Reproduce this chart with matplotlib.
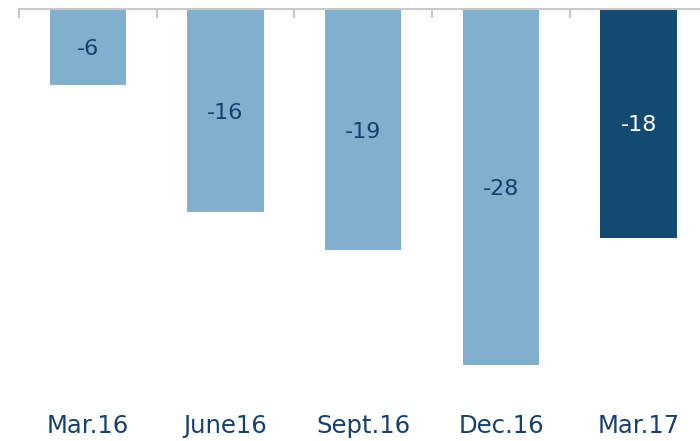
import matplotlib
matplotlib.use("Agg")
import matplotlib.pyplot as plt

categories = ["Mar.16", "June16", "Sept.16", "Dec.16", "Mar.17"]
values = [-6, -16, -19, -28, -18]
highlight = [False, False, False, False, True]

W, H = 700, 441
fig = plt.figure(figsize=(W/100, H/100), dpi=100)
left_px, right_px = 19, 707.5
top_px, bot_px = 9, 390
ax = fig.add_axes([left_px/W, 1 - bot_px/H, (right_px-left_px)/W, (bot_px-top_px)/H])

light = "#80b0cd"
dark = "#154a70"
text_c = "#17406d"
colors = [dark if h else light for h in highlight]
x = list(range(len(categories)))
bars = ax.bar(x, values, width=0.555, color=colors, zorder=2)

ax.set_xlim(-0.5, len(categories) - 0.5)
ax.set_ylim(-30, 0)
for s in ["left", "right", "bottom"]:
    ax.spines[s].set_visible(False)
ax.spines["top"].set_color("#c8c8c8")
ax.spines["top"].set_linewidth(1.5)
ax.set_yticks([])
ax.set_xticks([])
# separator ticks on the top axis
for b in [i - 0.5 for i in range(len(categories) + 1)]:
    ax.plot([b, b], [0, -0.63], color="#c8c8c8", lw=1.5, clip_on=False, zorder=3)

fontname = ["DejaVu Sans"]
for xi, v, h in zip(x, values, highlight):
    ax.annotate(f"{v}", (xi, v / 2), xytext=(0, -1.5), textcoords="offset points",
                ha="center", va="center", fontsize=16,
                color="white" if h else text_c, family=fontname, zorder=4)

for xi, c in zip(x, categories):
    ax.text(xi, -32.8, c, ha="center", va="center", fontsize=17.5, color=text_c,
            family=fontname, clip_on=False)

fig.savefig("out.png", dpi=100)
